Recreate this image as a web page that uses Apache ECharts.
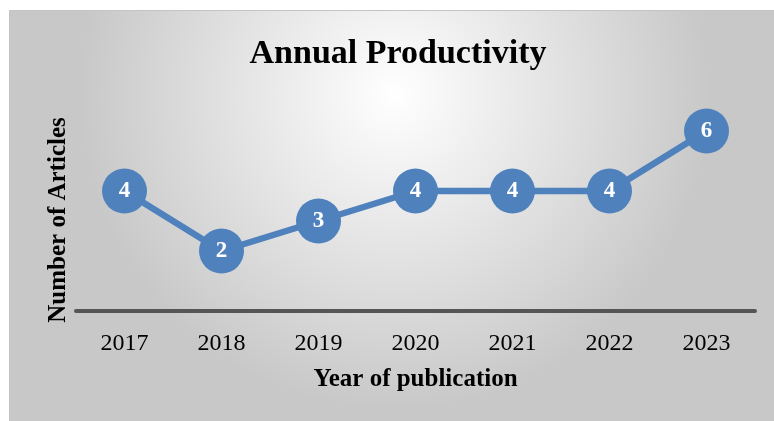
<!DOCTYPE html>
<html><head><meta charset="utf-8">
<script src="https://cdn.jsdelivr.net/npm/echarts@6/dist/echarts.min.js"></script>
<style>html,body{margin:0;padding:0;background:#fff}#c{width:774px;height:421px}</style>
</head><body><div id="c"></div>
<script>
const categories = ['2017','2018','2019','2020','2021','2022','2023'];
const articles = [4,2,3,4,4,4,6];
const titleText = 'Annual Productivity';
const xName = 'Year of publication';
const yName = 'Number of Articles';

const chart = echarts.init(document.getElementById('c'));
const serif = '"Liberation Serif", "DejaVu Serif", serif';
chart.setOption({
  animation:false,
  backgroundColor:'#ffffff',
  graphic:[{
    type:'rect', z:-10, silent:true,
    shape:{x:9.5,y:10.5,width:770,height:420},
    style:{
      fill:{type:'radial',x:0.5,y:0.2,r:0.75,colorStops:[{offset:0,color:'#ffffff'},{offset:1,color:'#c8c8c8'}]},
      stroke:'#c4c4c4',lineWidth:1
    }
  }],
  title:{text:titleText,left:393,textAlign:'center',top:32,
    textStyle:{fontFamily:serif,fontWeight:'bold',fontSize:34,color:'#000'}},
  grid:{left:76,right:19,top:101,bottom:110,containLabel:false},
  xAxis:{type:'category',data:categories,boundaryGap:true,
    name:xName,nameLocation:'middle',nameGap:56,
    nameTextStyle:{fontFamily:serif,fontWeight:'bold',fontSize:25,color:'#000'},
    axisLine:{lineStyle:{color:'#555555',width:4}},
    axisTick:{show:false},
    axisLabel:{fontFamily:serif,fontSize:24,color:'#000',margin:21}},
  yAxis:{type:'value',min:0,max:7,interval:1,
    name:yName,nameLocation:'middle',nameGap:5,nameRotate:90,
    nameTextStyle:{fontFamily:serif,fontWeight:'bold',fontSize:25,color:'#000',padding:[0,28,0,0]},
    axisLine:{show:false},axisTick:{show:false},axisLabel:{show:false},splitLine:{show:false}},
  series:[{type:'line',data:articles,
    lineStyle:{color:'#4f81bd',width:6.5},
    symbol:'circle',symbolSize:45,
    itemStyle:{color:'#4f81bd'},
    label:{show:true,position:'inside',color:'#fff',fontFamily:serif,fontWeight:'bold',fontSize:23}}]
});
</script></body></html>
